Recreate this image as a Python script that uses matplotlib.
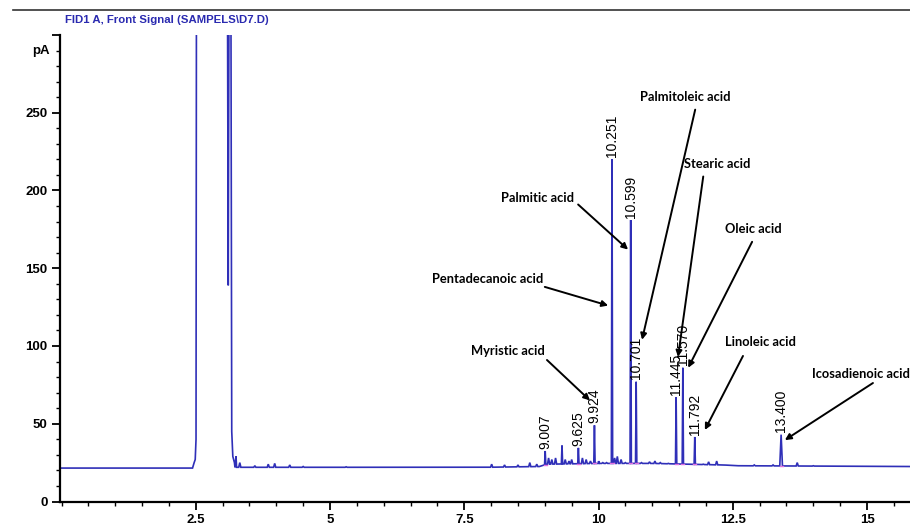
import numpy as np
import matplotlib
matplotlib.use("Agg")
import matplotlib.pyplot as plt
from matplotlib.lines import Line2D
from matplotlib.ticker import MultipleLocator, FixedLocator

plt.rcParams['font.family'] = ['Liberation Sans', 'DejaVu Sans']

# ---- data ----
# solvent peak (saturated, goes off the top)
solvent_t = [2.44, 2.47, 2.49, 2.505, 2.52, 3.07, 3.105, 3.14, 3.17, 3.19, 3.22, 3.26]
solvent_v = [21.5, 25, 27, 40, 600, 600, 139, 600, 45, 29, 25, 22]

# baseline level (pA)
base_t = [0.0, 2.44, 3.26, 7.9, 8.9, 9.05, 10.0, 11.0, 12.3, 12.6, 15.8]
base_v = [21.5, 21.5, 22.0, 22.0, 22.5, 24.0, 24.5, 24.5, 23.5, 23.0, 22.5]

# labelled peaks: retention time (min), height (pA)
peak_rt = [9.007, 9.625, 9.924, 10.251, 10.599, 10.701, 11.445, 11.570, 11.792, 13.400]
peak_h = [32.5, 34.5, 49, 220, 181, 77, 67, 86, 41.5, 43]

# small unlabelled peaks / noise
minor_rt = [3.25, 3.32, 3.6, 3.85, 3.97, 4.25, 4.5, 5.3,
            8.01, 8.25, 8.5, 8.72, 8.85, 9.07, 9.13, 9.2, 9.32, 9.38, 9.45, 9.5,
            9.7, 9.77, 9.85, 10.0, 10.08, 10.15, 10.3, 10.35, 10.42, 10.5,
            10.8, 10.95, 11.05, 11.15, 11.3, 11.95, 12.05, 12.2, 12.35, 12.9,
            13.25, 13.7, 14.0]
minor_h = [29, 25, 23, 24, 24.5, 23.5, 22.5, 22.3,
           24, 23.5, 23.5, 25, 24, 28, 27, 28, 36, 27, 26, 27,
           28, 27, 26, 26, 25, 25, 28, 29, 27, 25,
           25, 25.5, 26, 25, 24.5, 24, 25.5, 26, 23.5, 23.5,
           23.5, 25, 23]

compounds = ["Palmitoleic acid", "Stearic acid", "Oleic acid", "Palmitic acid",
             "Pentadecanoic acid", "Myristic acid", "Linoleic acid", "Icosadienoic acid"]

# annotation layout (text position, arrow start, arrow tip) in data units
ann_text = [(11.61, 260), (12.21, 217), (12.88, 175), (8.87, 195),
            (7.94, 143), (8.31, 97), (13.01, 102.6), (13.98, 82)]
ann_from = [(11.80, 252), (11.95, 209), (12.86, 167), (9.62, 191),
            (9.00, 138), (9.04, 91), (12.69, 93.6), (15.11, 76.2)]
ann_to = [(10.81, 104), (11.48, 93), (11.67, 86), (10.55, 162),
          (10.18, 126), (9.84, 65), (11.98, 46), (13.47, 39.5)]
ann_ha = ['center'] * 7 + ['left']

# ---- build trace vertices ----
pts = list(zip(solvent_t, solvent_v))
pts += [(t, v) for t, v in zip(base_t, base_v) if t < 2.44 or t > 3.26]
for rt, h in zip(peak_rt + minor_rt, peak_h + minor_h):
    w = 0.012 if h > 30 else 0.02
    if rt == 13.400:
        w = 0.025
    b = float(np.interp(rt, base_t, base_v))
    pts += [(rt - w, b), (rt, h), (rt + w, b)]
pts.sort()
tx = [p[0] for p in pts]
ty = [p[1] for p in pts]

fig = plt.figure(figsize=(9.10, 5.24), dpi=100)
ax = fig.add_axes([60 / 910, 22.5 / 524, 850 / 910, 466.5 / 524])
ax.plot(tx, ty, color='#2f2fb8', lw=1.2, solid_joinstyle='miter')

# integration marks at peak bases
for rt in peak_rt:
    b = float(np.interp(rt, base_t, base_v))
    ax.plot([rt - 0.03, rt + 0.03], [b, b], color='#e070e0', lw=1.0)

ax.set_xlim(-0.028, 15.8)
ax.set_ylim(0, 300)
for s in ['top', 'right']:
    ax.spines[s].set_visible(False)
for s in ['left', 'bottom']:
    ax.spines[s].set_linewidth(1.6)

ax.xaxis.set_major_locator(FixedLocator([2.5, 5, 7.5, 10, 12.5, 15]))
ax.set_xticklabels(['2.5', '5', '7.5', '10', '12.5', '15'])
ax.xaxis.set_minor_locator(MultipleLocator(0.5))
ax.yaxis.set_major_locator(FixedLocator([0, 50, 100, 150, 200, 250, 300]))
ax.set_yticklabels(['0', '50', '100', '150', '200', '250', ''])
ax.yaxis.set_minor_locator(MultipleLocator(10))
ax.tick_params(which='major', direction='out', length=6, width=1.3, labelsize=9.5, pad=3)
ax.tick_params(which='minor', direction='out', length=3, width=1.0)
for lab in ax.get_xticklabels() + ax.get_yticklabels():
    lab.set_fontweight('bold')

ax.text(-0.012, 290, 'pA', transform=ax.get_yaxis_transform(), ha='right', va='center',
        fontsize=9.5, fontweight='bold')

# retention time labels
for rt, h in zip(peak_rt, peak_h):
    ax.text(rt, h + 1.5, f'{rt:.3f}', rotation=90, ha='center', va='bottom', fontsize=10)

# compound annotations
for name, tp, fp, hp, ha in zip(compounds, ann_text, ann_from, ann_to, ann_ha):
    ax.text(tp[0], tp[1], name, ha=ha, va='center', fontsize=9.3, fontweight='bold',
            family=['Lato', 'DejaVu Sans'], clip_on=False)
    ax.annotate('', xy=hp, xytext=fp,
                arrowprops=dict(arrowstyle='-|>', color='black', lw=1.4, mutation_scale=9,
                                shrinkA=0, shrinkB=0))

fig.text(65 / 910, 1 - 20 / 524, 'FID1 A, Front Signal (SAMPELS\\D7.D)', color='#2a2ab0',
         fontsize=8.2, fontweight='bold', ha='left', va='center')
fig.add_artist(Line2D([13 / 910, 1], [1 - 10 / 524, 1 - 10 / 524], color='#333333', lw=1.2))

fig.savefig('out.png', dpi=100)
